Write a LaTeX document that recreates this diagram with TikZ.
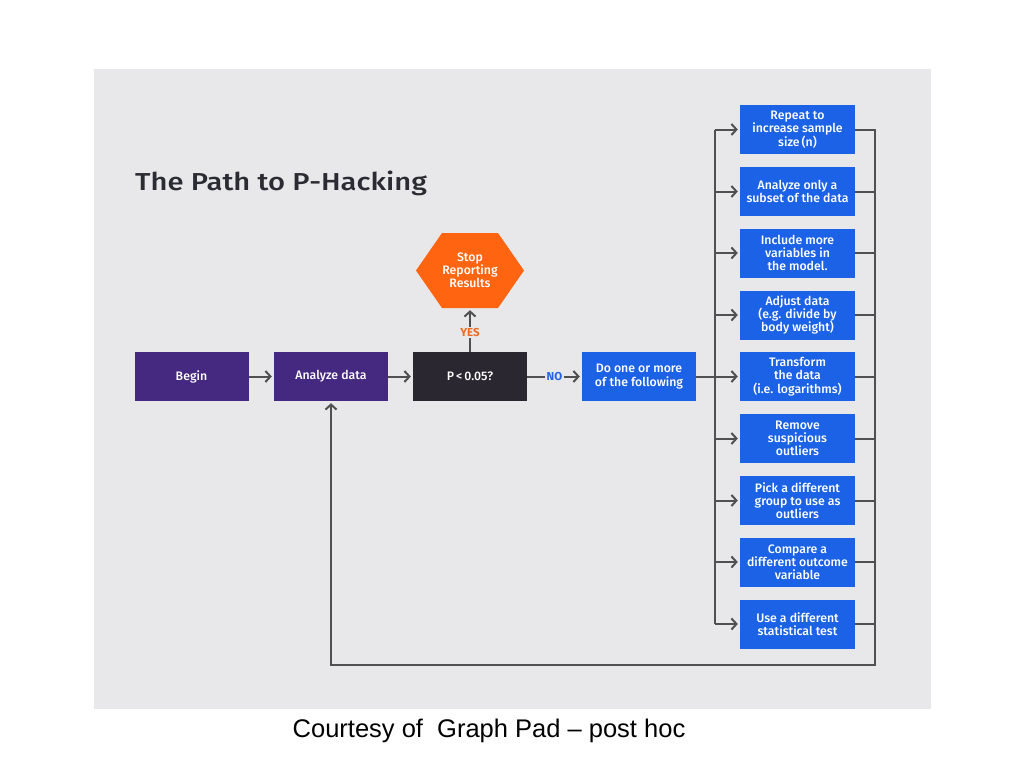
\documentclass[tikz,border=0pt]{standalone}
\usepackage{fontspec}
\setmainfont{Fira Sans}
\newfontfamily\medfont{Fira Sans Medium}
\newfontfamily\capfont{Liberation Sans}
\usetikzlibrary{arrows.meta}
\definecolor{bggray}{HTML}{E8E8EA}
\definecolor{purp}{HTML}{45287F}
\definecolor{darkb}{HTML}{2A2730}
\definecolor{blueb}{HTML}{1C62E6}
\definecolor{orng}{HTML}{FF6410}
\definecolor{yesc}{HTML}{F26A21}
\definecolor{noc}{HTML}{2563EB}
\definecolor{linec}{HTML}{505050}
\definecolor{titlec}{HTML}{2B2B33}
\tikzset{
  box/.style={rectangle, minimum width=114pt, minimum height=49pt, inner sep=2pt,
     text=white, align=center, font=\medfont\fontsize{12.3}{13.2}\selectfont},
  purpbox/.style={box, fill=purp},
  darkbox/.style={box, fill=darkb},
  bluebox/.style={box, fill=blueb},
  optbox/.style={box, fill=blueb, minimum width=115pt},
  ln/.style={draw=linec, line width=2pt},
  arr/.style={ln, -{Straight Barb[length=5pt,width=11pt,line width=2pt]}, shorten >=2pt},
  lbl/.style={fill=bggray, inner sep=1.5pt, font=\bfseries\fontsize{11.5}{12}\selectfont},
  hexa/.style={rectangle, minimum width=108pt, minimum height=75pt, inner sep=0pt,
     text=white, align=center, font=\medfont\fontsize{12.3}{13.2}\selectfont,
     path picture={\fill[orng]
        ([xshift=26pt]path picture bounding box.north west) --
        ([xshift=-26pt]path picture bounding box.north east) --
        (path picture bounding box.east) --
        ([xshift=-26pt]path picture bounding box.south east) --
        ([xshift=26pt]path picture bounding box.south west) --
        (path picture bounding box.west) -- cycle;}}
}
\begin{document}
\begin{tikzpicture}[x=1pt,y=-1pt]
\useasboundingbox[fill=white] (0,0) rectangle (1024,768);
\fill[bggray] (94,69) rectangle (931,709);

\node[anchor=west, inner sep=0pt, text=titlec, font=\medfont\fontsize{24.5}{28}\selectfont] (title) at (135,183) {\scalebox{1.19}[1]{The Path to P-Hacking}};

\node[purpbox] (begin) at (191.5,376.5) {Begin};
\node[purpbox] (analyze) at (331,376.5) {Analyze data};
\node[darkbox] (p) at (470,376.5) {P\,<\,0.05?};
\node[bluebox] (do) at (639,376.5) {Do one or more\\of the following};
\node[hexa] (stop) at (470,270.5) {Stop\\Reporting\\Results};

\node[optbox] (o1) at (797.5,129.5) {Repeat to\\increase sample\\size\,(n)};
\node[optbox] (o2) at (797.5,191.5) {Analyze only a\\subset of the data};
\node[optbox] (o3) at (797.5,253) {Include more\\variables in\\the model.};
\node[optbox] (o4) at (797.5,315) {Adjust data\\(e.g. divide by\\body weight)};
\node[optbox] (o5) at (797.5,376.5) {Transform\\the data\\(i.e. logarithms)};
\node[optbox] (o6) at (797.5,438.5) {Remove\\suspicious\\outliers};
\node[optbox] (o7) at (797.5,500.5) {Pick a different\\group to use as\\outliers};
\node[optbox] (o8) at (797.5,562) {Compare a\\different outcome\\variable};
\node[optbox] (o9) at (797.5,624) {Use a different\\statistical test};

\coordinate (lb) at (715,0);
\coordinate (rb) at (875,665);

\draw[arr] (begin) -- (analyze);
\draw[arr] (analyze) -- (p);
\draw[arr] (p.east) -- node[lbl, text=noc] {NO} (do.west);
\draw[arr] (p.north) -- node[lbl, text=yesc, pos=0.45] {YES} (stop.south);

\draw[ln] (o1.west -| lb) -- (o9.west -| lb);
\draw[arr] (do.east) -- (o5.west);
\foreach \i in {1,2,3,4,6,7,8,9}{
  \draw[arr] (o\i.west -| lb) -- (o\i.west);
}
\foreach \i in {2,3,4,5,6,7,8,9}{
  \draw[ln] (o\i.east) -- (o\i.east -| rb);
}
\draw[arr, line join=miter] (o1.east) -| (rb) -| (analyze.south);

\node[font=\capfont\fontsize{25.5}{28}\selectfont] (cap) at (489,731) {Courtesy of\ \ Graph Pad – post hoc};
\end{tikzpicture}
\end{document}
